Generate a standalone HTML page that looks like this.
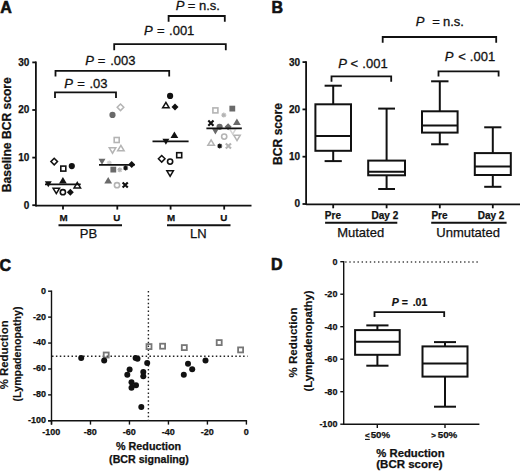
<!DOCTYPE html>
<html><head><meta charset="utf-8"><style>
html,body{margin:0;padding:0;background:#fff;width:520px;height:472px;overflow:hidden;}
svg{display:block;}
text{font-family:"Liberation Sans",sans-serif;}
</style></head><body>
<svg width="520" height="472" viewBox="0 0 520 472">
<rect width="520" height="472" fill="#fff"/>
<text x="0.2" y="12.6" font-size="16" font-weight="bold" text-anchor="start" fill="#111" stroke="#111" stroke-width="0.6" >A</text>
<line x1="35.9" y1="61.6" x2="35.9" y2="206.4" stroke="#111" stroke-width="1.8" />
<line x1="32.3" y1="205.2" x2="35.9" y2="205.2" stroke="#111" stroke-width="1.8" />
<text x="29.4" y="208.6" font-size="10" font-weight="bold" text-anchor="end" fill="#111" stroke="#111" stroke-width="0.25" >0</text>
<line x1="32.3" y1="157.6" x2="35.9" y2="157.6" stroke="#111" stroke-width="1.8" />
<text x="29.4" y="161.0" font-size="10" font-weight="bold" text-anchor="end" fill="#111" stroke="#111" stroke-width="0.25" >10</text>
<line x1="32.3" y1="110.0" x2="35.9" y2="110.0" stroke="#111" stroke-width="1.8" />
<text x="29.4" y="113.4" font-size="10" font-weight="bold" text-anchor="end" fill="#111" stroke="#111" stroke-width="0.25" >20</text>
<line x1="32.3" y1="62.4" x2="35.9" y2="62.4" stroke="#111" stroke-width="1.8" />
<text x="29.4" y="65.8" font-size="10" font-weight="bold" text-anchor="end" fill="#111" stroke="#111" stroke-width="0.25" >30</text>
<line x1="35.9" y1="205.6" x2="251.5" y2="205.6" stroke="#111" stroke-width="1.8" />
<line x1="63" y1="205.6" x2="63" y2="209.6" stroke="#111" stroke-width="1.8" />
<text x="63.6" y="221.4" font-size="9.8" font-weight="bold" text-anchor="middle" fill="#111" stroke="#111" stroke-width="0.25" >M</text>
<line x1="117.3" y1="205.6" x2="117.3" y2="209.6" stroke="#111" stroke-width="1.8" />
<text x="116.9" y="221.4" font-size="9.8" font-weight="bold" text-anchor="middle" fill="#111" stroke="#111" stroke-width="0.25" >U</text>
<line x1="170.6" y1="205.6" x2="170.6" y2="209.6" stroke="#111" stroke-width="1.8" />
<text x="171.2" y="221.4" font-size="9.8" font-weight="bold" text-anchor="middle" fill="#111" stroke="#111" stroke-width="0.25" >M</text>
<line x1="224.2" y1="205.6" x2="224.2" y2="209.6" stroke="#111" stroke-width="1.8" />
<text x="223.8" y="221.4" font-size="9.8" font-weight="bold" text-anchor="middle" fill="#111" stroke="#111" stroke-width="0.25" >U</text>
<line x1="58.5" y1="225.2" x2="122" y2="225.2" stroke="#111" stroke-width="1.9" />
<line x1="167" y1="225.2" x2="230.5" y2="225.2" stroke="#111" stroke-width="1.9" />
<text x="88.5" y="238.3" font-size="13" font-weight="normal" text-anchor="middle" fill="#111" stroke="#111" stroke-width="0.25" >PB</text>
<text x="198.4" y="238.3" font-size="13" font-weight="normal" text-anchor="middle" fill="#111" stroke="#111" stroke-width="0.25" >LN</text>
<text transform="translate(11.0,134.7) rotate(-90)" font-size="12.1" stroke="#111" stroke-width="0.25" font-weight="bold" text-anchor="middle" fill="#111">Baseline BCR score</text>
<path d="M168.6 21.8 V16.0 H224.8 V21.8" fill="none" stroke="#111" stroke-width="1.8" stroke-linecap="butt" stroke-linejoin="miter"/>
<path d="M114.2 50.2 V44.2 H225.8 V50.2" fill="none" stroke="#111" stroke-width="1.8" stroke-linecap="butt" stroke-linejoin="miter"/>
<path d="M55.5 76.6 V70.8 H169.2 V76.6" fill="none" stroke="#111" stroke-width="1.8" stroke-linecap="butt" stroke-linejoin="miter"/>
<path d="M55.0 97.9 V92.3 H116.0 V97.9" fill="none" stroke="#111" stroke-width="1.8" stroke-linecap="butt" stroke-linejoin="miter"/>
<text y="9.8" font-size="13" font-weight="normal" fill="#111" stroke="#111" stroke-width="0.3"><tspan x="175.85" font-style="italic">P</tspan><tspan x="187.72">=</tspan><tspan x="198.99">n.s.</tspan></text>
<text y="35.3" font-size="13" font-weight="normal" fill="#111" stroke="#111" stroke-width="0.3"><tspan x="144.05" font-style="italic">P</tspan><tspan x="157.12">=</tspan><tspan x="169.06">.001</tspan></text>
<text y="64.9" font-size="13" font-weight="normal" fill="#111" stroke="#111" stroke-width="0.3"><tspan x="85.25" font-style="italic">P</tspan><tspan x="97.72">=</tspan><tspan x="110.16">.003</tspan></text>
<text y="87.9" font-size="13" font-weight="normal" fill="#111" stroke="#111" stroke-width="0.3"><tspan x="64.25" font-style="italic">P</tspan><tspan x="77.32">=</tspan><tspan x="89.46">.03</tspan></text>
<path d="M54.2 158.30 L57.50 161.6 L54.2 164.90 L50.90 161.6 Z" fill="none" stroke="#111" stroke-width="1.5"/>
<rect x="60.80" y="166.10" width="5.0" height="5.0" fill="none" stroke="#111" stroke-width="1.6"/>
<circle cx="71.8" cy="166.1" r="3.1" fill="#111"/>
<path d="M48.3 187.20 L51.78 181.20 L44.82 181.20 Z" fill="#111"/>
<path d="M62.9 177.10 L66.80 183.60 L59.00 183.60 Z" fill="#111"/>
<path d="M77.3 182.56 L80.54 187.96 L74.06 187.96 Z" fill="none" stroke="#111" stroke-width="1.5" stroke-linejoin="miter"/>
<path d="M56.3 193.54 L59.54 188.14 L53.06 188.14 Z" fill="none" stroke="#111" stroke-width="1.5" stroke-linejoin="miter"/>
<circle cx="62.9" cy="192.2" r="2.6" fill="none" stroke="#111" stroke-width="1.6"/>
<path d="M70.3 188.70 L73.80 192.2 L70.3 195.70 L66.80 192.2 Z" fill="#111"/>
<path d="M120.5 104.00 L123.80 107.3 L120.5 110.60 L117.20 107.3 Z" fill="none" stroke="#b4b4b4" stroke-width="1.5"/>
<circle cx="112.5" cy="114.9" r="3.1" fill="#6a6a6a"/>
<rect x="114.20" y="137.50" width="5.0" height="5.0" fill="none" stroke="#b4b4b4" stroke-width="1.6"/>
<path d="M112.5 153.24 L115.74 147.84 L109.26 147.84 Z" fill="none" stroke="#b4b4b4" stroke-width="1.5" stroke-linejoin="miter"/>
<path d="M120.9 145.46 L124.14 150.86 L117.66 150.86 Z" fill="none" stroke="#b4b4b4" stroke-width="1.5" stroke-linejoin="miter"/>
<path d="M102.0 164.80 L105.48 158.80 L98.52 158.80 Z" fill="#6a6a6a"/>
<rect x="110.40" y="166.70" width="5.8" height="5.8" fill="#6a6a6a"/>
<path d="M117.3 169.8 L122.3 169.8 M119.8 167.3 L119.8 172.3 M118.05 168.05 L121.55 171.55 M121.55 168.05 L118.05 171.55" stroke="#b4b4b4" stroke-width="1.1" fill="none"/>
<circle cx="119.8" cy="169.8" r="1.2" fill="#b4b4b4"/>
<path d="M123.1 168.0 L128.1 168.0 M125.6 165.5 L125.6 170.5 M123.85 166.25 L127.35 169.75 M127.35 166.25 L123.85 169.75" stroke="#111" stroke-width="1.1" fill="none"/>
<circle cx="125.6" cy="168.0" r="1.2" fill="#111"/>
<path d="M108.2 177.10 L112.10 183.60 L104.30 183.60 Z" fill="#6a6a6a"/>
<circle cx="117.0" cy="185.2" r="2.6" fill="none" stroke="#b4b4b4" stroke-width="1.6"/>
<path d="M122.6 182.4 L127.8 187.6 M127.8 182.4 L122.6 187.6" stroke="#111" stroke-width="2.1" fill="none"/>
<path d="M131.7 160.90 L135.20 164.4 L131.7 167.90 L128.20 164.4 Z" fill="#111"/>
<path d="M106.8 162.9 L111.8 162.9 M109.3 160.4 L109.3 165.4 M107.55 161.15 L111.05 164.65 M111.05 161.15 L107.55 164.65" stroke="#d0d0d0" stroke-width="1.1" fill="none"/>
<circle cx="109.3" cy="162.9" r="1.2" fill="#d0d0d0"/>
<circle cx="170.1" cy="95.9" r="3.1" fill="#111"/>
<path d="M165.9 102.36 L169.14 107.76 L162.66 107.76 Z" fill="none" stroke="#111" stroke-width="1.5" stroke-linejoin="miter"/>
<path d="M175.0 103.60 L178.50 107.1 L175.0 110.60 L171.50 107.1 Z" fill="#111"/>
<path d="M174.4 131.40 L178.30 137.90 L170.50 137.90 Z" fill="#111"/>
<path d="M165.9 144.80 L169.38 138.80 L162.42 138.80 Z" fill="#111"/>
<path d="M161.7 155.50 L165.00 158.8 L161.7 162.10 L158.40 158.8 Z" fill="none" stroke="#111" stroke-width="1.5"/>
<rect x="176.70" y="152.70" width="5.0" height="5.0" fill="none" stroke="#111" stroke-width="1.6"/>
<circle cx="170.1" cy="161.6" r="2.6" fill="none" stroke="#111" stroke-width="1.6"/>
<path d="M170.1 176.24 L173.34 170.84 L166.86 170.84 Z" fill="none" stroke="#111" stroke-width="1.5" stroke-linejoin="miter"/>
<rect x="212.90" y="107.90" width="5.0" height="5.0" fill="none" stroke="#b4b4b4" stroke-width="1.6"/>
<rect x="229.40" y="105.70" width="5.8" height="5.8" fill="#6a6a6a"/>
<path d="M221.3 115.1 L226.3 115.1 M223.8 112.6 L223.8 117.6 M222.05 113.35 L225.55 116.85 M225.55 113.35 L222.05 116.85" stroke="#b4b4b4" stroke-width="1.1" fill="none"/>
<circle cx="223.8" cy="115.1" r="1.2" fill="#b4b4b4"/>
<path d="M208.3 120.5 L213.5 125.7 M213.5 120.5 L208.3 125.7" stroke="#111" stroke-width="2.1" fill="none"/>
<path d="M236.9 118.40 L240.80 124.90 L233.00 124.90 Z" fill="#6a6a6a"/>
<circle cx="219.6" cy="126.8" r="3.1" fill="#6a6a6a"/>
<path d="M228.1 123.30 L231.60 126.8 L228.1 130.30 L224.60 126.8 Z" fill="#6a6a6a"/>
<path d="M215.4 134.60 L218.88 128.60 L211.92 128.60 Z" fill="#6a6a6a"/>
<path d="M232.7 134.04 L235.94 128.64 L229.46 128.64 Z" fill="none" stroke="#d4d4d4" stroke-width="1.5" stroke-linejoin="miter"/>
<circle cx="224.2" cy="136.6" r="2.6" fill="none" stroke="#b4b4b4" stroke-width="1.6"/>
<path d="M237.0 140.54 L240.24 135.14 L233.76 135.14 Z" fill="none" stroke="#b4b4b4" stroke-width="1.5" stroke-linejoin="miter"/>
<path d="M211.1 139.86 L214.34 145.26 L207.86 145.26 Z" fill="none" stroke="#b4b4b4" stroke-width="1.5" stroke-linejoin="miter"/>
<path d="M217.2 146.0 L222.2 146.0 M219.7 143.5 L219.7 148.5 M217.95 144.25 L221.45 147.75 M221.45 144.25 L217.95 147.75" stroke="#111" stroke-width="1.1" fill="none"/>
<circle cx="219.7" cy="146.0" r="1.2" fill="#111"/>
<path d="M225.8 143.4 L231.0 148.6 M231.0 143.4 L225.8 148.6" stroke="#b4b4b4" stroke-width="2.1" fill="none"/>
<line x1="45.0" y1="184.3" x2="80.7" y2="184.3" stroke="#111" stroke-width="1.8" />
<line x1="99.0" y1="164.8" x2="134.7" y2="164.8" stroke="#111" stroke-width="1.8" />
<line x1="152.5" y1="141.4" x2="188.6" y2="141.4" stroke="#111" stroke-width="1.8" />
<line x1="206.4" y1="128.4" x2="241.8" y2="128.4" stroke="#111" stroke-width="1.8" />
<text x="271.6" y="12.6" font-size="16" font-weight="bold" text-anchor="start" fill="#111" stroke="#111" stroke-width="0.6" >B</text>
<line x1="306.1" y1="61.3" x2="306.1" y2="205.1" stroke="#111" stroke-width="1.8" />
<line x1="302.5" y1="204.0" x2="306.1" y2="204.0" stroke="#111" stroke-width="1.8" />
<text x="300.0" y="207.4" font-size="10" font-weight="bold" text-anchor="end" fill="#111" stroke="#111" stroke-width="0.25" >0</text>
<line x1="302.5" y1="156.7" x2="306.1" y2="156.7" stroke="#111" stroke-width="1.8" />
<text x="300.0" y="160.1" font-size="10" font-weight="bold" text-anchor="end" fill="#111" stroke="#111" stroke-width="0.25" >10</text>
<line x1="302.5" y1="109.4" x2="306.1" y2="109.4" stroke="#111" stroke-width="1.8" />
<text x="300.0" y="112.8" font-size="10" font-weight="bold" text-anchor="end" fill="#111" stroke="#111" stroke-width="0.25" >20</text>
<line x1="302.5" y1="62.1" x2="306.1" y2="62.1" stroke="#111" stroke-width="1.8" />
<text x="300.0" y="65.5" font-size="10" font-weight="bold" text-anchor="end" fill="#111" stroke="#111" stroke-width="0.25" >30</text>
<line x1="306.1" y1="204.3" x2="520" y2="204.3" stroke="#111" stroke-width="1.8" />
<line x1="333.2" y1="204.3" x2="333.2" y2="208.3" stroke="#111" stroke-width="1.8" />
<text x="332.9" y="218.8" font-size="10" font-weight="bold" text-anchor="middle" fill="#111" stroke="#111" stroke-width="0.25" >Pre</text>
<line x1="386.6" y1="204.3" x2="386.6" y2="208.3" stroke="#111" stroke-width="1.8" />
<text x="384.9" y="218.8" font-size="10" font-weight="bold" text-anchor="middle" fill="#111" stroke="#111" stroke-width="0.25" >Day 2</text>
<line x1="439.8" y1="204.3" x2="439.8" y2="208.3" stroke="#111" stroke-width="1.8" />
<text x="439.5" y="218.8" font-size="10" font-weight="bold" text-anchor="middle" fill="#111" stroke="#111" stroke-width="0.25" >Pre</text>
<line x1="492.8" y1="204.3" x2="492.8" y2="208.3" stroke="#111" stroke-width="1.8" />
<text x="491.1" y="218.8" font-size="10" font-weight="bold" text-anchor="middle" fill="#111" stroke="#111" stroke-width="0.25" >Day 2</text>
<line x1="325.1" y1="222.8" x2="397.3" y2="222.8" stroke="#111" stroke-width="1.9" />
<line x1="431.2" y1="222.8" x2="506.6" y2="222.8" stroke="#111" stroke-width="1.9" />
<text x="360.7" y="236.6" font-size="13" font-weight="normal" text-anchor="middle" fill="#111" stroke="#111" stroke-width="0.25" >Mutated</text>
<text x="468.1" y="236.6" font-size="13" font-weight="normal" text-anchor="middle" fill="#111" stroke="#111" stroke-width="0.25" >Unmutated</text>
<text transform="translate(282.1,134) rotate(-90)" font-size="12.1" stroke="#111" stroke-width="0.25" font-weight="bold" text-anchor="middle" fill="#111">BCR score</text>
<line x1="333.2" y1="85.7" x2="333.2" y2="104.3" stroke="#111" stroke-width="2.0" />
<line x1="333.2" y1="150.8" x2="333.2" y2="161.1" stroke="#111" stroke-width="2.0" />
<line x1="324.6" y1="85.7" x2="341.8" y2="85.7" stroke="#111" stroke-width="2.0" />
<line x1="324.6" y1="161.1" x2="341.8" y2="161.1" stroke="#111" stroke-width="2.0" />
<rect x="315.4" y="104.3" width="35.6" height="46.5" fill="none" stroke="#111" stroke-width="2.0"/>
<line x1="315.4" y1="136.1" x2="351.0" y2="136.1" stroke="#111" stroke-width="2.0" />
<line x1="386.6" y1="108.6" x2="386.6" y2="160.6" stroke="#111" stroke-width="2.0" />
<line x1="386.6" y1="175.3" x2="386.6" y2="189.0" stroke="#111" stroke-width="2.0" />
<line x1="378.2" y1="108.6" x2="395.0" y2="108.6" stroke="#111" stroke-width="2.0" />
<line x1="378.2" y1="189.0" x2="395.0" y2="189.0" stroke="#111" stroke-width="2.0" />
<rect x="368.2" y="160.6" width="36.8" height="14.7" fill="none" stroke="#111" stroke-width="2.0"/>
<line x1="368.2" y1="171.8" x2="405.0" y2="171.8" stroke="#111" stroke-width="2.0" />
<line x1="439.8" y1="81.3" x2="439.8" y2="111.3" stroke="#111" stroke-width="2.0" />
<line x1="439.8" y1="132.6" x2="439.8" y2="144.3" stroke="#111" stroke-width="2.0" />
<line x1="431.1" y1="81.3" x2="448.5" y2="81.3" stroke="#111" stroke-width="2.0" />
<line x1="431.1" y1="144.3" x2="448.5" y2="144.3" stroke="#111" stroke-width="2.0" />
<rect x="422.0" y="111.3" width="35.6" height="21.3" fill="none" stroke="#111" stroke-width="2.0"/>
<line x1="422.0" y1="125.4" x2="457.6" y2="125.4" stroke="#111" stroke-width="2.0" />
<line x1="492.8" y1="127.3" x2="492.8" y2="153.1" stroke="#111" stroke-width="2.0" />
<line x1="492.8" y1="175.0" x2="492.8" y2="186.8" stroke="#111" stroke-width="2.0" />
<line x1="484.2" y1="127.3" x2="501.4" y2="127.3" stroke="#111" stroke-width="2.0" />
<line x1="484.2" y1="186.8" x2="501.4" y2="186.8" stroke="#111" stroke-width="2.0" />
<rect x="474.8" y="153.1" width="36.0" height="21.9" fill="none" stroke="#111" stroke-width="2.0"/>
<line x1="474.8" y1="166.4" x2="510.8" y2="166.4" stroke="#111" stroke-width="2.0" />
<path d="M331.5 81.8 V76.4 H391.2 V81.8" fill="none" stroke="#111" stroke-width="1.8" stroke-linecap="butt" stroke-linejoin="miter"/>
<path d="M382.7 42.8 V37.0 H496.2 V42.8" fill="none" stroke="#111" stroke-width="1.8" stroke-linecap="butt" stroke-linejoin="miter"/>
<path d="M438.5 76.5 V71.3 H498.6 V76.5" fill="none" stroke="#111" stroke-width="1.8" stroke-linecap="butt" stroke-linejoin="miter"/>
<text y="67.6" font-size="13" font-weight="normal" fill="#111" stroke="#111" stroke-width="0.3"><tspan x="338.15" font-style="italic">P</tspan><tspan x="350.41">&lt;</tspan><tspan x="362.36">.001</tspan></text>
<text y="26.4" font-size="13" font-weight="normal" fill="#111" stroke="#111" stroke-width="0.3"><tspan x="415.85" font-style="italic">P</tspan><tspan x="432.32">=</tspan><tspan x="442.99">n.s.</tspan></text>
<text y="61.3" font-size="13" font-weight="normal" fill="#111" stroke="#111" stroke-width="0.3"><tspan x="444.85" font-style="italic">P</tspan><tspan x="458.31">&lt;</tspan><tspan x="469.86">.001</tspan></text>
<text x="-0.6" y="270.6" font-size="16" font-weight="bold" text-anchor="start" fill="#111" stroke="#111" stroke-width="0.6" >C</text>
<line x1="51.5" y1="290.5" x2="51.5" y2="424.6" stroke="#111" stroke-width="1.4" />
<line x1="48.1" y1="420.8" x2="247.1" y2="420.8" stroke="#111" stroke-width="1.4" />
<line x1="48.1" y1="291.2" x2="51.5" y2="291.2" stroke="#111" stroke-width="1.4" />
<text x="46.0" y="293.6" font-size="9" font-weight="bold" text-anchor="end" fill="#111" stroke="#111" stroke-width="0.25" >0</text>
<line x1="48.1" y1="317.12" x2="51.5" y2="317.12" stroke="#111" stroke-width="1.4" />
<text x="46.0" y="319.52" font-size="9" font-weight="bold" text-anchor="end" fill="#111" stroke="#111" stroke-width="0.25" >-20</text>
<line x1="48.1" y1="343.04" x2="51.5" y2="343.04" stroke="#111" stroke-width="1.4" />
<text x="46.0" y="345.44" font-size="9" font-weight="bold" text-anchor="end" fill="#111" stroke="#111" stroke-width="0.25" >-40</text>
<line x1="48.1" y1="368.96" x2="51.5" y2="368.96" stroke="#111" stroke-width="1.4" />
<text x="46.0" y="371.36" font-size="9" font-weight="bold" text-anchor="end" fill="#111" stroke="#111" stroke-width="0.25" >-60</text>
<line x1="48.1" y1="394.88" x2="51.5" y2="394.88" stroke="#111" stroke-width="1.4" />
<text x="46.0" y="397.28" font-size="9" font-weight="bold" text-anchor="end" fill="#111" stroke="#111" stroke-width="0.25" >-80</text>
<line x1="48.1" y1="420.8" x2="51.5" y2="420.8" stroke="#111" stroke-width="1.4" />
<text x="46.0" y="423.2" font-size="9" font-weight="bold" text-anchor="end" fill="#111" stroke="#111" stroke-width="0.25" >-100</text>
<line x1="51.5" y1="420.8" x2="51.5" y2="424.6" stroke="#111" stroke-width="1.4" />
<text x="51.3" y="434.8" font-size="9" font-weight="bold" text-anchor="middle" fill="#111" stroke="#111" stroke-width="0.25" >-100</text>
<line x1="90.48" y1="420.8" x2="90.48" y2="424.6" stroke="#111" stroke-width="1.4" />
<text x="90.28" y="434.8" font-size="9" font-weight="bold" text-anchor="middle" fill="#111" stroke="#111" stroke-width="0.25" >-80</text>
<line x1="129.46" y1="420.8" x2="129.46" y2="424.6" stroke="#111" stroke-width="1.4" />
<text x="129.26" y="434.8" font-size="9" font-weight="bold" text-anchor="middle" fill="#111" stroke="#111" stroke-width="0.25" >-60</text>
<line x1="168.44" y1="420.8" x2="168.44" y2="424.6" stroke="#111" stroke-width="1.4" />
<text x="168.24" y="434.8" font-size="9" font-weight="bold" text-anchor="middle" fill="#111" stroke="#111" stroke-width="0.25" >-40</text>
<line x1="207.42" y1="420.8" x2="207.42" y2="424.6" stroke="#111" stroke-width="1.4" />
<text x="207.22" y="434.8" font-size="9" font-weight="bold" text-anchor="middle" fill="#111" stroke="#111" stroke-width="0.25" >-20</text>
<line x1="246.4" y1="420.8" x2="246.4" y2="424.6" stroke="#111" stroke-width="1.4" />
<text x="246.2" y="434.8" font-size="9" font-weight="bold" text-anchor="middle" fill="#111" stroke="#111" stroke-width="0.25" >0</text>
<line x1="52.0" y1="356.2" x2="247.5" y2="356.2" stroke="#222" stroke-width="1.4" stroke-dasharray="1.5 2.4"/>
<line x1="148.4" y1="291.0" x2="148.4" y2="420.8" stroke="#222" stroke-width="1.4" stroke-dasharray="1.5 2.4"/>
<rect x="103.70" y="352.50" width="5.0" height="5.0" fill="none" stroke="#777" stroke-width="1.8"/>
<rect x="146.50" y="344.10" width="5.0" height="5.0" fill="none" stroke="#777" stroke-width="1.8"/>
<rect x="160.10" y="343.70" width="5.0" height="5.0" fill="none" stroke="#777" stroke-width="1.8"/>
<rect x="181.80" y="345.10" width="5.0" height="5.0" fill="none" stroke="#777" stroke-width="1.8"/>
<rect x="216.70" y="340.10" width="5.0" height="5.0" fill="none" stroke="#777" stroke-width="1.8"/>
<rect x="238.10" y="347.40" width="5.0" height="5.0" fill="none" stroke="#777" stroke-width="1.8"/>
<circle cx="81.2" cy="357.9" r="3.0" fill="#111"/>
<circle cx="104.2" cy="360.4" r="3.0" fill="#111"/>
<circle cx="135.6" cy="357.9" r="3.0" fill="#111"/>
<circle cx="137.5" cy="358.8" r="3.0" fill="#111"/>
<circle cx="147.2" cy="362.9" r="3.0" fill="#111"/>
<circle cx="129.6" cy="369.4" r="3.0" fill="#111"/>
<circle cx="127.3" cy="374.8" r="3.0" fill="#111"/>
<circle cx="143.3" cy="371.9" r="3.0" fill="#111"/>
<circle cx="143.3" cy="376.2" r="3.0" fill="#111"/>
<circle cx="131.5" cy="382.3" r="3.0" fill="#111"/>
<circle cx="136.0" cy="385.2" r="3.0" fill="#111"/>
<circle cx="131.5" cy="387.7" r="3.0" fill="#111"/>
<circle cx="141.3" cy="406.9" r="3.0" fill="#111"/>
<circle cx="188.0" cy="363.8" r="3.0" fill="#111"/>
<circle cx="192.2" cy="369.2" r="3.0" fill="#111"/>
<circle cx="183.8" cy="374.7" r="3.0" fill="#111"/>
<circle cx="205.5" cy="360.4" r="3.0" fill="#111"/>
<text transform="translate(8.2,354.8) rotate(-90)" font-size="10.8" font-weight="bold" text-anchor="middle" textLength="69" lengthAdjust="spacingAndGlyphs" fill="#111" stroke="#111" stroke-width="0.15">% Reduction</text>
<text transform="translate(20.6,354.0) rotate(-90)" font-size="10.5" font-weight="bold" text-anchor="middle" textLength="94.9" lengthAdjust="spacingAndGlyphs" fill="#111" stroke="#111" stroke-width="0.15">(Lympadenopathy)</text>
<text x="148.6" y="449.7" font-size="10.5" font-weight="bold" text-anchor="middle" fill="#111" stroke="#111" stroke-width="0.25" textLength="65" lengthAdjust="spacingAndGlyphs">% Reduction</text>
<text x="149.0" y="462.6" font-size="10.5" font-weight="bold" text-anchor="middle" fill="#111" stroke="#111" stroke-width="0.25" textLength="79.8" lengthAdjust="spacingAndGlyphs">(BCR signaling)</text>
<text x="271.0" y="270.4" font-size="16" font-weight="bold" text-anchor="start" fill="#111" stroke="#111" stroke-width="0.6" >D</text>
<line x1="343.7" y1="261.0" x2="343.7" y2="424.9" stroke="#111" stroke-width="1.4" />
<line x1="343.7" y1="424.2" x2="479.4" y2="424.2" stroke="#111" stroke-width="1.4" />
<line x1="340.3" y1="261.7" x2="343.7" y2="261.7" stroke="#111" stroke-width="1.4" />
<text x="337.4" y="264.9" font-size="9" font-weight="bold" text-anchor="end" fill="#111" stroke="#111" stroke-width="0.25" >0</text>
<line x1="340.3" y1="294.2" x2="343.7" y2="294.2" stroke="#111" stroke-width="1.4" />
<text x="337.4" y="297.4" font-size="9" font-weight="bold" text-anchor="end" fill="#111" stroke="#111" stroke-width="0.25" >-20</text>
<line x1="340.3" y1="326.7" x2="343.7" y2="326.7" stroke="#111" stroke-width="1.4" />
<text x="337.4" y="329.9" font-size="9" font-weight="bold" text-anchor="end" fill="#111" stroke="#111" stroke-width="0.25" >-40</text>
<line x1="340.3" y1="359.2" x2="343.7" y2="359.2" stroke="#111" stroke-width="1.4" />
<text x="337.4" y="362.4" font-size="9" font-weight="bold" text-anchor="end" fill="#111" stroke="#111" stroke-width="0.25" >-60</text>
<line x1="340.3" y1="391.7" x2="343.7" y2="391.7" stroke="#111" stroke-width="1.4" />
<text x="337.4" y="394.9" font-size="9" font-weight="bold" text-anchor="end" fill="#111" stroke="#111" stroke-width="0.25" >-80</text>
<line x1="340.3" y1="424.2" x2="343.7" y2="424.2" stroke="#111" stroke-width="1.4" />
<text x="337.4" y="427.4" font-size="9" font-weight="bold" text-anchor="end" fill="#111" stroke="#111" stroke-width="0.25" >-100</text>
<line x1="377.3" y1="424.2" x2="377.3" y2="428.0" stroke="#111" stroke-width="1.4" />
<line x1="445.0" y1="424.2" x2="445.0" y2="428.0" stroke="#111" stroke-width="1.4" />
<line x1="345.2" y1="262.0" x2="479.5" y2="262.0" stroke="#444" stroke-width="1.3" stroke-dasharray="1.4 2.7"/>
<text x="365.0" y="437.6" font-size="8" font-weight="bold" text-anchor="start" fill="#111" stroke="#111" stroke-width="0.3" >&lt;</text>
<line x1="365.0" y1="439.4" x2="369.8" y2="439.4" stroke="#111" stroke-width="1.1" />
<text x="370.7" y="438.0" font-size="9.7" font-weight="bold" text-anchor="start" fill="#111" stroke="#111" stroke-width="0.25" >50%</text>
<text x="431.3" y="437.8" font-size="8" font-weight="bold" text-anchor="start" fill="#111" stroke="#111" stroke-width="0.3" >&gt;</text>
<text x="437.7" y="438.0" font-size="9.8" font-weight="bold" text-anchor="start" fill="#111" stroke="#111" stroke-width="0.25" >50%</text>
<text x="410.5" y="456.7" font-size="10.5" font-weight="bold" text-anchor="middle" fill="#111" stroke="#111" stroke-width="0.25" textLength="68.3" lengthAdjust="spacingAndGlyphs">% Reduction</text>
<text x="409.5" y="468.0" font-size="10.5" font-weight="bold" text-anchor="middle" fill="#111" stroke="#111" stroke-width="0.25" textLength="66.4" lengthAdjust="spacingAndGlyphs">(BCR score)</text>
<text transform="translate(297.0,342.5) rotate(-90)" font-size="10.8" font-weight="bold" text-anchor="middle" textLength="69.9" lengthAdjust="spacingAndGlyphs" fill="#111" stroke="#111" stroke-width="0.15">% Reduction</text>
<text transform="translate(312.0,341.0) rotate(-90)" font-size="10.5" font-weight="bold" text-anchor="middle" textLength="101" lengthAdjust="spacingAndGlyphs" fill="#111" stroke="#111" stroke-width="0.15">(Lympadenopathy)</text>
<line x1="377.4" y1="325.4" x2="377.4" y2="330.1" stroke="#111" stroke-width="2.0" />
<line x1="377.4" y1="354.8" x2="377.4" y2="365.7" stroke="#111" stroke-width="2.0" />
<line x1="366.3" y1="325.4" x2="388.5" y2="325.4" stroke="#111" stroke-width="2.0" />
<line x1="366.3" y1="365.7" x2="388.5" y2="365.7" stroke="#111" stroke-width="2.0" />
<rect x="355.1" y="330.1" width="44.6" height="24.7" fill="none" stroke="#111" stroke-width="2.0"/>
<line x1="355.1" y1="341.7" x2="399.7" y2="341.7" stroke="#111" stroke-width="2.0" />
<line x1="445.0" y1="342.1" x2="445.0" y2="346.4" stroke="#111" stroke-width="2.0" />
<line x1="445.0" y1="376.6" x2="445.0" y2="406.7" stroke="#111" stroke-width="2.0" />
<line x1="434.0" y1="342.1" x2="456.0" y2="342.1" stroke="#111" stroke-width="2.0" />
<line x1="434.0" y1="406.7" x2="456.0" y2="406.7" stroke="#111" stroke-width="2.0" />
<rect x="422.5" y="346.4" width="45.0" height="30.2" fill="none" stroke="#111" stroke-width="2.0"/>
<line x1="422.5" y1="363.4" x2="467.5" y2="363.4" stroke="#111" stroke-width="2.0" />
<path d="M374.5 317.0 V312.1 H444.2 V317.0" fill="none" stroke="#111" stroke-width="1.8" stroke-linecap="butt" stroke-linejoin="miter"/>
<text y="306.1" font-size="10.6" font-weight="bold" fill="#111" stroke="#111" stroke-width="0.2"><tspan x="391.76" font-style="italic">P</tspan><tspan x="401.81">=</tspan><tspan x="412.63">.01</tspan></text>
</svg>
</body></html>
